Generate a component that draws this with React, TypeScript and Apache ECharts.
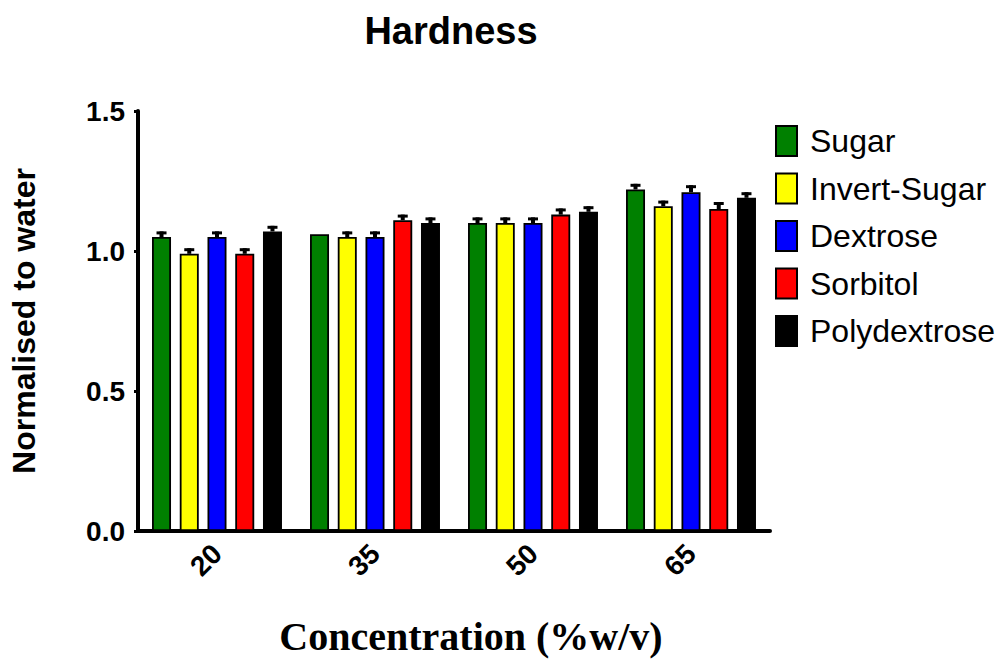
import React, { useEffect, useRef } from "react";
import * as echarts from "echarts";

// Concentration levels (%w/v)
const concentrations = ["20", "35", "50", "65"];

// Sweetener names, in legend order
const sweeteners = ["Sugar", "Invert-Sugar", "Dextrose", "Sorbitol", "Polydextrose"];
const sweetenerColors = ["#008000", "#ffff00", "#0000ff", "#ff0000", "#000000"];

// Hardness normalised to water (mean), one array per sweetener across concentrations
const sugarMean = [1.05, 1.06, 1.10, 1.22];
const invertSugarMean = [0.99, 1.05, 1.10, 1.16];
const dextroseMean = [1.05, 1.05, 1.10, 1.21];
const sorbitolMean = [0.99, 1.11, 1.13, 1.15];
const polydextroseMean = [1.07, 1.10, 1.14, 1.19];

// Upper error (SEM)
const sugarErr = [0.02, 0.0, 0.02, 0.02];
const invertSugarErr = [0.02, 0.02, 0.02, 0.02];
const dextroseErr = [0.02, 0.02, 0.02, 0.025];
const sorbitolErr = [0.02, 0.02, 0.022, 0.025];
const polydextroseErr = [0.02, 0.02, 0.02, 0.02];

const yTicks = [0, 0.5, 1.0, 1.5];

const means = [sugarMean, invertSugarMean, dextroseMean, sorbitolMean, polydextroseMean];
const errs = [sugarErr, invertSugarErr, dextroseErr, sorbitolErr, polydextroseErr];

const BAR_W = 19;
const BAR_GAP = 0.46;

export default function App() {
  const ref = useRef<HTMLDivElement>(null);

  useEffect(() => {
    if (!ref.current) return;
    const chart = echarts.init(ref.current, undefined, { renderer: "svg" });

    const barSeries = sweeteners.map((name, i) => ({
      name,
      type: "bar",
      data: means[i],
      barWidth: BAR_W,
      barGap: `${BAR_GAP * 100}%`,
      itemStyle: { color: sweetenerColors[i], borderColor: "#000", borderWidth: 1.8 },
      z: 2,
    }));

    const errData: number[][] = [];
    sweeteners.forEach((_, si) => {
      concentrations.forEach((_, ci) => {
        errData.push([ci, means[si][ci], errs[si][ci], si]);
      });
    });

    const step = BAR_W * (1 + BAR_GAP);

    const errorSeries = {
      type: "custom",
      name: "error",
      data: errData,
      encode: { x: 0, y: 1 },
      z: 5,
      silent: true,
      renderItem: (params: any, api: any) => {
        const ci = api.value(0);
        const m = api.value(1);
        const e = api.value(2);
        const si = api.value(3);
        if (!e) return { type: "group", children: [] };
        const base = api.coord([ci, m]);
        const top = api.coord([ci, m + e]);
        const x = base[0] + (si - 2) * step;
        return {
          type: "group",
          children: [
            {
              type: "line",
              shape: { x1: x, y1: base[1], x2: x, y2: top[1] },
              style: { stroke: "#000", lineWidth: 4 },
            },
            {
              type: "line",
              shape: { x1: x - 5, y1: top[1] + 1.5, x2: x + 5, y2: top[1] + 1.5 },
              style: { stroke: "#000", lineWidth: 3 },
            },
          ],
        };
      },
    };

    chart.setOption({
      animation: false,
      backgroundColor: "#ffffff",
      grid: { left: 138, right: 230, top: 111, bottom: 128, containLabel: false },
      legend: {
        data: sweeteners,
        orient: "vertical",
        left: 775,
        top: 125,
        padding: 0,
        itemWidth: 21,
        itemHeight: 30,
        itemGap: 15.5,
        icon: "rect",
        textStyle: {
          fontFamily: "Liberation Sans, Arial, sans-serif",
          fontSize: 32,
          color: "#000",
          padding: [0, 0, 0, 8],
        },
      },
      xAxis: {
        type: "category",
        data: concentrations,
        axisLine: { lineStyle: { color: "#000", width: 4 } },
        axisTick: { alignWithLabel: true, length: 5, lineStyle: { color: "#000", width: 3 } },
        axisLabel: {
          rotate: 45,
          margin: 18,
          fontFamily: "Liberation Sans, Arial, sans-serif",
          fontWeight: "bold",
          fontSize: 28,
          color: "#000",
        },
      },
      yAxis: {
        type: "value",
        min: yTicks[0],
        max: yTicks[yTicks.length - 1],
        interval: 0.5,
        name: "Normalised to water",
        nameLocation: "middle",
        nameGap: 98,
        nameTextStyle: {
          fontFamily: "Liberation Sans, Arial, sans-serif",
          fontWeight: "bold",
          fontSize: 32,
          color: "#000",
        },
        splitLine: { show: false },
        axisLine: { show: true, lineStyle: { color: "#000", width: 4 } },
        axisTick: { show: true, length: 4, lineStyle: { color: "#000", width: 3 } },
        axisLabel: {
          margin: 13,
          formatter: (v: number) => v.toFixed(1),
          fontFamily: "Liberation Sans, Arial, sans-serif",
          fontWeight: "bold",
          fontSize: 28,
          color: "#000",
        },
      },
      graphic: [
        {
          type: "text",
          x: 451,
          y: 31,
          style: {
            text: "Hardness",
            textAlign: "center",
            textVerticalAlign: "middle",
            fontFamily: "Liberation Sans, Arial, sans-serif",
            fontWeight: "bold",
            fontSize: 38,
            fill: "#000",
          },
        },
        {
          type: "text",
          x: 471,
          y: 636,
          style: {
            text: "Concentration (%w/v)",
            textAlign: "center",
            textVerticalAlign: "middle",
            fontFamily: "Liberation Serif, Times New Roman, serif",
            fontWeight: "bold",
            fontSize: 40,
            fill: "#000",
          },
        },
      ],
      series: [...barSeries, errorSeries],
    });

    return () => chart.dispose();
  }, []);

  return (
    <div
      ref={ref}
      style={{ position: "fixed", left: 0, top: 0, width: 1000, height: 659 }}
    />
  );
}
